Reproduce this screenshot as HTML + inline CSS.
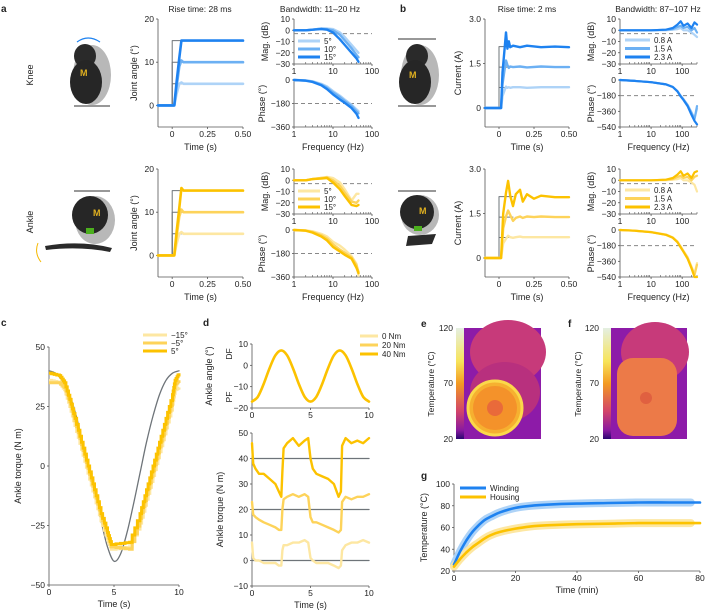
<!DOCTYPE html>
<html><head><meta charset="utf-8"><style>
html,body{margin:0;padding:0;background:#fff}
svg{display:block;font-family:"Liberation Sans",sans-serif}
text{fill:#222}
</style></head><body>
<svg id="fig" width="705" height="611" viewBox="0 0 705 611" xmlns="http://www.w3.org/2000/svg">
<defs>
<linearGradient id="cbar" x1="0" y1="0" x2="0" y2="1">
<stop offset="0" stop-color="#e4efe2"/><stop offset="0.3" stop-color="#f7e45a"/><stop offset="0.5" stop-color="#f39a22"/><stop offset="0.75" stop-color="#d2446a"/><stop offset="0.92" stop-color="#8a1aa0"/><stop offset="1" stop-color="#2a0670"/>
</linearGradient>
</defs>
<g font-weight="bold" font-size="10">
<text x="1" y="12">a</text>
<text x="400" y="12">b</text>
<text x="1" y="326">c</text>
<text x="203" y="326">d</text>
<text x="421" y="327">e</text>
<text x="568" y="327">f</text>
<text x="421" y="479">g</text>
</g>
<text transform="translate(33,75) rotate(-90)" text-anchor="middle" font-size="9">Knee</text>
<text transform="translate(33,222) rotate(-90)" text-anchor="middle" font-size="9">Ankle</text>
<g>
<path d="M77 42 Q88 34 100 42" fill="none" stroke="#1e82f0" stroke-width="1.2"/>
<ellipse cx="92" cy="75" rx="19" ry="30" fill="#b8b8b8"/>
<ellipse cx="85" cy="56" rx="11" ry="12" fill="#2a2a2a"/>
<ellipse cx="86" cy="82" rx="16" ry="22" fill="#262626"/>
<text x="80" y="76" font-size="9" font-weight="bold" style="fill:#e0b020">M</text>
<line x1="74" y1="106" x2="110" y2="106" stroke="#777" stroke-width="1.5"/>
</g>
<g>
<line x1="74" y1="191" x2="110" y2="191" stroke="#777" stroke-width="1.5"/>
<ellipse cx="95" cy="220" rx="20" ry="24" fill="#b8b8b8"/>
<ellipse cx="90" cy="215" rx="18" ry="19" fill="#262626"/>
<text x="93" y="216" font-size="9" font-weight="bold" style="fill:#e0b020">M</text>
<rect x="86" y="228" width="8" height="6" fill="#4caf1e"/>
<path d="M45 246 Q80 240 112 248 L110 252 Q80 246 46 250 Z" fill="#2a2a2a"/>
<path d="M38 243 Q34 253 41 262" fill="none" stroke="#f5b800" stroke-width="1"/>
</g>
<g>
<line x1="398" y1="39" x2="436" y2="39" stroke="#777" stroke-width="1.5"/>
<ellipse cx="420" cy="75" rx="19" ry="30" fill="#b8b8b8"/>
<ellipse cx="417" cy="56" rx="11" ry="12" fill="#2a2a2a"/>
<ellipse cx="415" cy="82" rx="16" ry="22" fill="#262626"/>
<text x="409" y="78" font-size="9" font-weight="bold" style="fill:#e0b020">M</text>
<line x1="398" y1="106" x2="436" y2="106" stroke="#777" stroke-width="1.5"/>
</g>
<g>
<line x1="398" y1="191" x2="436" y2="191" stroke="#777" stroke-width="1.5"/>
<ellipse cx="420" cy="215" rx="19" ry="20" fill="#b8b8b8"/>
<ellipse cx="417" cy="212" rx="17" ry="17" fill="#262626"/>
<text x="419" y="214" font-size="9" font-weight="bold" style="fill:#e0b020">M</text>
<rect x="414" y="226" width="8" height="5" fill="#4caf1e"/>
<path d="M408 236 L436 234 L432 244 L406 246 Z" fill="#2a2a2a"/>
</g>
<g>
<rect x="456" y="328" width="8" height="111" fill="url(#cbar)"/>
<rect x="464" y="328" width="77" height="111" fill="#8d1ba8"/>
<ellipse cx="508" cy="352" rx="38" ry="32" fill="#c73a7a"/>
<ellipse cx="505" cy="392" rx="35" ry="30" fill="#b8307e"/>
<circle cx="495" cy="408" r="27" fill="#f6b030"/>
<circle cx="495" cy="408" r="22" fill="#f4922a"/>
<circle cx="495" cy="408" r="8" fill="#e96a3a"/>
<circle cx="495" cy="408" r="27" fill="none" stroke="#fbd84a" stroke-width="3"/>
</g>
<g>
<rect x="603" y="328" width="8" height="111" fill="url(#cbar)"/>
<rect x="611" y="328" width="76" height="111" fill="#8d1ba8"/>
<ellipse cx="655" cy="352" rx="34" ry="30" fill="#c73a7a"/>
<rect x="617" y="358" width="60" height="78" rx="16" fill="#ec7a48"/>
<circle cx="646" cy="398" r="6" fill="#e06040"/>
</g>
<g font-size="8.5" text-anchor="end">
<text x="453" y="331">120</text><text x="453" y="386">70</text><text x="453" y="442">20</text>
<text x="599" y="331">120</text><text x="599" y="386">70</text><text x="599" y="442">20</text>
</g>
<text transform="translate(434,384) rotate(-90)" text-anchor="middle" font-size="8.5">Temperature (°C)</text>
<text transform="translate(581,384) rotate(-90)" text-anchor="middle" font-size="8.5">Temperature (°C)</text>
</svg>
<script>
const stepT = [-0.1, 0.015, 0.03, 0.05, 0.065, 0.08, 0.5];
const knee15 = [0, 0, 5, 11, 15, 15, 15];
const knee10 = [0, 0, 4, 9, 10.4, 10, 10];
const knee5 = [0, 0, 2.5, 5, 5.3, 5, 5];
const ankle15 = [0, 0, 5, 11, 15.6, 15, 15];
const ankle10 = [0, 0, 4, 9, 10.6, 10, 10];
const ankle5 = [0, 0, 2.5, 5, 5.4, 5, 5];
const angleRefs = [15, 10, 5];

const bodeF = [1, 2, 3, 5, 7, 10, 15, 20, 30, 40, 45];
const kneeMag15 = [0, 0, 0.5, 1, 0.5, -2, -8, -13, -20, -25, -28];
const kneeMag10 = [0, 0, 0.5, 1.5, 1, 0, -4, -9, -16, -22, -24];
const kneeMag5 = [0, 0, 0.5, 1.5, 1.5, 1, -2, -6, -13, -18, -20];
const kneePh15 = [0, -5, -15, -40, -70, -110, -150, -175, -215, -260, -290];
const kneePh10 = [0, -4, -12, -35, -60, -95, -130, -160, -200, -240, -255];
const kneePh5 = [0, -3, -10, -30, -50, -85, -120, -150, -190, -225, -240];
const ankleMag15 = [0, 0, 1, 1.5, 2, -2, -8, -14, -22, -23, -22];
const ankleMag10 = [0, 0, 1, 2, 2.5, 0, -5, -11, -19, -20, -18];
const ankleMag5 = [0, 0, 1, 2, 3, 2, -2, -8, -18, -12, -12];
const anklePh15 = [0, -5, -20, -50, -80, -130, -165, -190, -220, -290, -330];
const anklePh10 = [0, -4, -15, -40, -65, -110, -150, -175, -210, -270, -320];
const anklePh5 = [0, -3, -10, -30, -50, -90, -120, -150, -200, -260, -350];

const curT = [-0.1, 0.015, 0.025, 0.04, 0.05, 0.06, 0.07, 0.08, 0.1, 0.15, 0.2, 0.3, 0.4, 0.5];
const kneeCur23 = [0, 0, 1.2, 2.0, 2.55, 2.0, 2.25, 2.05, 2.1, 2.05, 2.1, 2.05, 2.07, 2.05];
const kneeCur15 = [0, 0, 0.8, 1.3, 1.6, 1.45, 1.35, 1.4, 1.38, 1.4, 1.37, 1.4, 1.38, 1.38];
const kneeCur08 = [0, 0, 0.4, 0.6, 0.72, 0.68, 0.7, 0.68, 0.7, 0.7, 0.68, 0.7, 0.7, 0.7];
const curT2 = [-0.1, 0.015, 0.03, 0.05, 0.065, 0.08, 0.1, 0.12, 0.15, 0.17, 0.2, 0.25, 0.3, 0.4, 0.5];
const ankleCur23 = [0, 0, 1.5, 2.2, 2.6, 2.1, 1.75, 2.15, 2.3, 1.9, 2.15, 2.0, 2.1, 2.05, 2.05];
const ankleCur15 = [0, 0, 1.0, 1.4, 1.6, 1.45, 1.25, 1.35, 1.4, 1.35, 1.4, 1.38, 1.4, 1.38, 1.38];
const ankleCur08 = [0, 0, 0.5, 0.65, 0.75, 0.7, 0.68, 0.7, 0.72, 0.7, 0.7, 0.7, 0.7, 0.7, 0.7];
const curRefs = [2.07, 1.38, 0.69];

const bodeFB = [1, 3, 10, 30, 50, 70, 90, 110, 150, 200, 250, 300];
const kneeMagB23 = [0, 0, 0, 0.5, 2, 5, 8, 4, 6, 2, 7, 5];
const kneeMagB15 = [0, 0, 0, 0.5, 1, 3, 4, 2, 3, 0, 2, -2];
const kneeMagB08 = [0, 0, 0, 0, 0.5, 1, 2, 0, 0, -2, -4, -6];
const kneePhB23 = [0, -10, -25, -50, -80, -130, -190, -230, -300, -400, -470, -510];
const kneePhB15 = [0, -10, -25, -50, -80, -130, -185, -225, -290, -380, -450, -300];
const kneePhB08 = [0, -10, -25, -48, -78, -125, -180, -220, -285, -370, -440, -330];
const ankleMagB23 = [0, 0, 0, 0.5, 2, 5, 8, 4, 6, 2, 7, 8];
const ankleMagB15 = [0, 0, 0, 0.5, 1, 3, 4, 2, 3, 0, 3, 4];
const ankleMagB08 = [0, 0, 0, 0, 0.5, 1, 2, 0, 0, -2, -4, -10];
const anklePhB23 = [0, -8, -25, -55, -90, -140, -200, -250, -330, -440, -540, -540];
const anklePhB15 = [0, -8, -25, -55, -88, -135, -195, -245, -320, -430, -520, -400];
const anklePhB08 = [0, -8, -22, -50, -85, -130, -190, -240, -310, -420, -500, -380];

const torqueT = [0, 0.5, 1, 1.5, 2, 2.5, 3, 3.5, 4, 4.5, 5, 5.5, 6, 6.5, 7, 7.5, 8, 8.5, 9, 9.5, 10];
const torqueRef = [40, 39, 36, 31, 23, 12, 1, -11, -23, -34, -40, -37, -28, -16, -3, 10, 21, 30, 36, 39, 40];
const stairT = [0, 0.8, 1.2, 1.6, 2, 2.5, 3, 3.5, 4, 4.5, 4.8, 6.2, 7, 7.5, 8, 8.5, 9, 9.5, 9.7, 10];
const torque5 = [39, 38, 35, 28, 20, 10, 0, -10, -20, -28, -33, -32, -20, -10, 0, 10, 20, 30, 36, 39];
const torqueM5 = [35, 35, 33, 27, 19, 9, -1, -11, -21, -29, -34, -35, -22, -12, -2, 8, 18, 28, 34, 36];
const torqueM15 = [36, 35, 32, 25, 17, 7, -3, -13, -23, -31, -35, -34, -24, -14, -4, 6, 16, 26, 32, 33];

const angT = [0, 0.5, 1, 1.5, 2, 2.5, 3, 3.5, 4, 4.5, 5, 5.5, 6, 6.5, 7, 7.5, 8, 8.5, 9, 9.5, 10];
const angVals = [-17, -14.7, -8.7, -1.3, 4.7, 7, 4.7, -1.3, -8.7, -14.7, -17, -14.7, -8.7, -1.3, 4.7, 7, 4.7, -1.3, -8.7, -14.7, -17];

const dT = [0, 0.1, 0.3, 0.6, 1, 1.5, 2, 2.3, 2.5, 2.6, 2.7, 3, 3.5, 4, 4.5, 4.8, 5, 5.2, 5.5, 6, 6.5, 7, 7.4, 7.6, 7.7, 8, 8.5, 9, 9.5, 10];
const dTorque40 = [46, 38, 36, 34, 34, 32, 30, 27, 25, 35, 44, 46, 48, 45, 47, 48, 40, 36, 34, 33, 32, 30, 25, 27, 45, 48, 46, 47, 46, 48];
const dTorque20 = [23, 18, 17, 16, 15, 14, 13, 12, 12, 20, 24, 25, 26, 25, 26, 25, 17, 15, 15, 14, 13, 12, 11, 12, 23, 25, 24, 25, 25, 26];
const dTorque0 = [7, 1, 0, 0, -1, -1, -1, -2, -2, 4, 6, 6, 7, 7, 8, 7, 1, 0, -1, -1, -1, -2, -3, -2, 4, 6, 7, 7, 8, 7];
const dRefs = [0, 20, 40];

const tempT = [0, 2, 4, 6, 8, 10, 12, 15, 20, 25, 30, 40, 50, 60, 70, 77];
const winding = [26, 38, 48, 56, 62, 67, 70, 74, 78, 80, 81, 82, 82.5, 83, 83, 83];
const housing = [24, 31, 37, 42, 46, 50, 53, 56, 59, 61, 62, 63, 63.5, 64, 64, 64];

const NS = "http://www.w3.org/2000/svg";
const svg = document.getElementById('fig');
const B1='#1e82f0',B2='#6cb0f3',B3='#aed3f7',Y1='#fcc200',Y2='#fdd35a',Y3='#fde7a2',G='#6e7479';
function mk(tag, attrs, name, parent) {
  const el = document.createElementNS(NS, tag);
  for (const k in attrs) el.setAttribute(k, attrs[k]);
  
  
  (parent || svg).appendChild(el);
  return el;
}
function txt(x, y, s, name, opts) {
  const o = Object.assign({x: x, y: y, 'font-size': 8.5, 'text-anchor': 'middle'}, opts || {});
  const el = mk('text', o, name);
  el.textContent = s;
  return el;
}
function vtxt(x, y, s, name, size) {
  const el = mk('text', {transform: 'translate(' + x + ',' + y + ') rotate(-90)', 'font-size': size || 8.5, 'text-anchor': 'middle'}, name);
  el.textContent = s;
  return el;
}
const lin = (d0, d1, p0, p1) => v => p0 + (v - d0) * (p1 - p0) / (d1 - d0);
const lg = (d0, d1, p0, p1) => v => p0 + (Math.log10(v) - Math.log10(d0)) * (p1 - p0) / (Math.log10(d1) - Math.log10(d0));
function line(xs, ys, sx, sy, color, w, name, opt) {
  let d = '';
  xs.forEach((x, i) => { d += (i ? 'L' : 'M') + sx(x).toFixed(1) + ' ' + sy(ys[i]).toFixed(1); });
  return mk('path', Object.assign({d: d, fill: 'none', stroke: color, 'stroke-width': w, 'stroke-linejoin': 'round', 'stroke-linecap': 'round'}, opt || {}), name);
}
function stairs(xs, ys, sx, sy, color, w, name) {
  let d = 'M' + sx(xs[0]) + ' ' + sy(ys[0]);
  for (let i = 1; i < xs.length; i++) {
    const n = 4;
    for (let k = 1; k <= n; k++) {
      const xx = xs[i - 1] + (xs[i] - xs[i - 1]) * k / n;
      const yy = ys[i - 1] + (ys[i] - ys[i - 1]) * k / n;
      d += 'H' + sx(xx).toFixed(1) + 'V' + sy(yy).toFixed(1);
    }
  }
  return mk('path', {d: d, fill: 'none', stroke: color, 'stroke-width': w}, name);
}
function smooth(xs, ys, sx, sy, color, w, name) {
  const P = xs.map((x, i) => [sx(x), sy(ys[i])]);
  let d = 'M' + P[0][0] + ' ' + P[0][1];
  for (let i = 0; i < P.length - 1; i++) {
    const p0 = P[Math.max(i - 1, 0)], p1 = P[i], p2 = P[i + 1], p3 = P[Math.min(i + 2, P.length - 1)];
    d += 'C' + (p1[0] + (p2[0] - p0[0]) / 6).toFixed(1) + ' ' + (p1[1] + (p2[1] - p0[1]) / 6).toFixed(1) + ' ' +
      (p2[0] - (p3[0] - p1[0]) / 6).toFixed(1) + ' ' + (p2[1] - (p3[1] - p1[1]) / 6).toFixed(1) + ' ' + p2[0].toFixed(1) + ' ' + p2[1].toFixed(1);
  }
  return mk('path', {d: d, fill: 'none', stroke: color, 'stroke-width': w, 'stroke-linecap': 'round'}, name);
}
function axes(p) {
  const g = '#555';
  mk('line', {x1: p.x0, y1: p.y0, x2: p.x0, y2: p.y1, stroke: g, 'stroke-width': 0.8}, p.name + '-y-axis');
  mk('line', {x1: p.x0, y1: p.y1, x2: p.x1, y2: p.y1, stroke: g, 'stroke-width': 0.8}, p.name + '-x-axis');
  p.yt.forEach((v, i) => {
    const y = p.sy(v);
    mk('line', {x1: p.x0 - 2, y1: y, x2: p.x0, y2: y, stroke: g, 'stroke-width': 0.8}, p.name + '-y-tick');
    txt(p.x0 - 4, y + 3, p.yl[i], p.name + '-y-tick-label', {'text-anchor': 'end'});
  });
  if (p.xt) p.xt.forEach((v, i) => {
    const x = p.sx(v);
    mk('line', {x1: x, y1: p.y1, x2: x, y2: p.y1 + 2, stroke: g, 'stroke-width': 0.8}, p.name + '-x-tick');
    txt(x, p.y1 + 10, p.xl[i], p.name + '-x-tick-label');
  });
  if (p.minor) p.minor.forEach(v => {
    const x = p.sx(v);
    mk('line', {x1: x, y1: p.y1, x2: x, y2: p.y1 - 2, stroke: g, 'stroke-width': 0.6}, p.name + '-x-minor-tick');
  });
  if (p.xlabel) txt((p.x0 + p.x1) / 2, p.y1 + (p.xlo || 23), p.xlabel, p.name + '-x-title', {'font-size': 9});
  if (p.ylabel) vtxt(p.ylx, (p.y0 + p.y1) / 2, p.ylabel, p.name + '-y-title', 9);
}
function hdash(x0, x1, y, name) {
  mk('line', {x1: x0, y1: y, x2: x1, y2: y, stroke: '#888', 'stroke-width': 1, 'stroke-dasharray': '4 3'}, name);
}
function legend(x, y, dy, cols, labels, name, len, ws) {
  labels.forEach((l, i) => {
    mk('line', {x1: x, y1: y + i * dy, x2: x + len, y2: y + i * dy, stroke: cols[i], 'stroke-width': ws[i]}, name + '-swatch');
    txt(x + len + 4, y + i * dy + 3, l, name + '-label', {'text-anchor': 'start', 'font-size': 8});
  });
}
const minorA = [2,3,4,5,6,7,8,9,20,30,40,50,60,70,80,90];
const minorB = [2,3,4,5,6,7,8,9,20,30,40,50,60,70,80,90,200,300];

txt(200, 12, 'Rise time: 28 ms', 'panel-a-step-title', {'font-size': 8.5});
txt(320, 12, 'Bandwidth: 11–20 Hz', 'panel-a-bode-title', {'font-size': 8.5});
txt(527, 12, 'Rise time: 2 ms', 'panel-b-step-title', {'font-size': 8.5});
txt(658, 12, 'Bandwidth: 87–107 Hz', 'panel-b-bode-title', {'font-size': 8.5});

[[0, [knee5, knee10, knee15], [B3, B2, B1], 'knee'], [150, [ankle5, ankle10, ankle15], [Y3, Y2, Y1], 'ankle']].forEach(([off, ser, cols, nm]) => {
  const sx = lin(-0.1, 0.5, 158, 243), sy = lin(-5, 20, 127 + off, 19 + off);
  axes({x0: 158, x1: 243, y0: 19 + off, y1: 127 + off, sx: sx, sy: sy, xt: [0, 0.25, 0.5], xl: ['0', '0.25', '0.50'], yt: [0, 10, 20], yl: ['0', '10', '20'], xlabel: 'Time (s)', ylabel: 'Joint angle (°)', ylx: 137, name: nm + '-angle-step'});
  angleRefs.forEach(L => line([0, 0, 0.07], [0, L, L], sx, sy, G, 1, nm + '-angle-reference'));
  ser.forEach((s, i) => line(stepT, s, sx, sy, cols[i], 2.6, nm + '-angle-response-' + i));
  const fx = lg(1, 100, 294, 372);
  const my = lin(-30, 10, 64 + off, 19 + off), py = lin(-360, 0, 127 + off, 80 + off);
  axes({x0: 294, x1: 372, y0: 19 + off, y1: 64 + off, sx: fx, sy: my, xt: [1, 10, 100], xl: ['1', '10', '100'], yt: [10, 0, -10, -20, -30], yl: ['10', '0', '−10', '−20', '−30'], minor: minorA, ylabel: 'Mag. (dB)', ylx: 268, name: nm + '-bode-mag'});
  axes({x0: 294, x1: 372, y0: 80 + off, y1: 127 + off, sx: fx, sy: py, xt: [1, 10, 100], xl: ['1', '10', '100'], yt: [0, -180, -360], yl: ['0', '−180', '−360'], minor: minorA, xlabel: 'Frequency (Hz)', ylabel: 'Phase (°)', ylx: 265, name: nm + '-bode-phase'});
  hdash(294, 372, my(-3), nm + '-mag-3db-line');
  hdash(294, 372, py(-180), nm + '-phase-180-line');
  const mags = nm === 'knee' ? [kneeMag5, kneeMag10, kneeMag15] : [ankleMag5, ankleMag10, ankleMag15];
  const phs = nm === 'knee' ? [kneePh5, kneePh10, kneePh15] : [anklePh5, anklePh10, anklePh15];
  mags.forEach((m, i) => line(bodeF, m, fx, my, cols[i], 2.4, nm + '-mag-series-' + i));
  phs.forEach((m, i) => line(bodeF, m, fx, py, cols[i], 2.4, nm + '-phase-series-' + i));
  legend(298, 41 + off, 8, cols, ['5°', '10°', '15°'], nm + '-bode-legend', 22, [3, 3, 3]);
});

[[0, [kneeCur08, kneeCur15, kneeCur23], curT, [B3, B2, B1], 'knee-b'], [150, [ankleCur08, ankleCur15, ankleCur23], curT2, [Y3, Y2, Y1], 'ankle-b']].forEach(([off, ser, ts, cols, nm]) => {
  const sx = lin(-0.1, 0.5, 485, 569), sy = lin(0, 3, 108 + off, 19 + off);
  axes({x0: 485, x1: 569, y0: 19 + off, y1: 127 + off, sx: sx, sy: sy, xt: [0, 0.25, 0.5], xl: ['0', '0.25', '0.50'], yt: [0, 1.5, 3], yl: ['0', '1.5', '3.0'], xlabel: 'Time (s)', ylabel: 'Current (A)', ylx: 461, name: nm + '-current-step'});
  curRefs.forEach(L => line([0, 0, 0.1], [0, L, L], sx, sy, G, 1, nm + '-current-reference'));
  ser.forEach((s, i) => line(ts, s, sx, sy, cols[i], 2.4, nm + '-current-response-' + i));
  const fx = lg(1, 300, 620, 697);
  const my = lin(-30, 10, 64 + off, 19 + off), py = lin(-540, 0, 127 + off, 80 + off);
  axes({x0: 620, x1: 697, y0: 19 + off, y1: 64 + off, sx: fx, sy: my, xt: [1, 10, 100], xl: ['1', '10', '100'], yt: [10, 0, -10, -20, -30], yl: ['10', '0', '−10', '−20', '−30'], minor: minorB, ylabel: 'Mag. (dB)', ylx: 594, name: nm + '-bode-mag'});
  axes({x0: 620, x1: 697, y0: 80 + off, y1: 127 + off, sx: fx, sy: py, xt: [1, 10, 100], xl: ['1', '10', '100'], yt: [0, -180, -360, -540], yl: ['0', '−180', '−360', '−540'], minor: minorB, xlabel: 'Frequency (Hz)', ylabel: 'Phase (°)', ylx: 594, name: nm + '-bode-phase'});
  hdash(620, 697, my(-3), nm + '-mag-3db-line');
  hdash(620, 697, py(-180), nm + '-phase-180-line');
  const mags = off === 0 ? [kneeMagB08, kneeMagB15, kneeMagB23] : [ankleMagB08, ankleMagB15, ankleMagB23];
  const phs = off === 0 ? [kneePhB08, kneePhB15, kneePhB23] : [anklePhB08, anklePhB15, anklePhB23];
  mags.forEach((m, i) => line(bodeFB, m, fx, my, cols[i], 2.2, nm + '-mag-series-' + i));
  phs.forEach((m, i) => line(bodeFB, m, fx, py, cols[i], 2.2, nm + '-phase-series-' + i));
  legend(625, 40 + off, 8.5, cols, ['0.8 A', '1.5 A', '2.3 A'], nm + '-bode-legend', 25, [3, 3, 3]);
});

{
  const sx = lin(0, 10, 49, 179), sy = lin(-50, 50, 585, 347);
  axes({x0: 49, x1: 179, y0: 347, y1: 585, sx: sx, sy: sy, xt: [0, 5, 10], xl: ['0', '5', '10'], yt: [50, 25, 0, -25, -50], yl: ['50', '25', '0', '−25', '−50'], xlabel: 'Time (s)', xlo: 22, ylabel: 'Ankle  torque (N m)', ylx: 21, name: 'torque-tracking'});
  smooth(torqueT, torqueRef, sx, sy, G, 1.3, 'torque-reference');
  stairs(stairT, torqueM15, sx, sy, Y3, 3, 'torque-minus15');
  stairs(stairT, torqueM5, sx, sy, Y2, 3, 'torque-minus5');
  stairs(stairT, torque5, sx, sy, Y1, 3, 'torque-plus5');
  legend(143, 335, 8, [Y3, Y2, Y1], ['−15°', '−5°', '5°'], 'torque-legend', 24, [3, 3, 3]);
}

{
  const sx = lin(0, 10, 252, 369), sy = lin(-20, 10, 408, 344);
  axes({x0: 252, x1: 369, y0: 344, y1: 408, sx: sx, sy: sy, xt: [0, 5, 10], xl: ['0', '5', '10'], yt: [10, 0, -10, -20], yl: ['10', '0', '−10', '−20'], ylabel: 'Ankle angle (°)', ylx: 212, name: 'ankle-angle'});
  txt(229, 357, 'DF', 'dorsiflexion-label', {transform: 'rotate(-90 229 354)', 'font-size': 8.5});
  txt(229, 400, 'PF', 'plantarflexion-label', {transform: 'rotate(-90 229 397)', 'font-size': 8.5});
  smooth(angT, angVals, sx, sy, Y1, 2.6, 'ankle-angle-series');
  const ty = lin(-10, 50, 586, 433);
  axes({x0: 252, x1: 369, y0: 433, y1: 586, sx: sx, sy: ty, xt: [0, 5, 10], xl: ['0', '5', '10'], yt: [50, 40, 30, 20, 10, 0, -10], yl: ['50', '40', '30', '20', '10', '0', '−10'], xlabel: 'Time (s)', xlo: 22, ylabel: 'Ankle torque (N m)', ylx: 223, name: 'ankle-torque'});
  dRefs.forEach(v => line([0, 10], [v, v], sx, ty, G, 1.3, 'torque-command-line'));
  line(dT, dTorque0, sx, ty, Y3, 2.4, 'torque-0nm');
  line(dT, dTorque20, sx, ty, Y2, 2.4, 'torque-20nm');
  line(dT, dTorque40, sx, ty, Y1, 2.4, 'torque-40nm');
  legend(360, 336, 9, [Y3, Y2, Y1], ['0 Nm', '20 Nm', '40 Nm'], 'torque-d-legend', 18, [3, 3, 3]);
}

{
  const sx = lin(0, 80, 454, 700), sy = lin(20, 100, 571, 484);
  axes({x0: 454, x1: 700, y0: 484, y1: 571, sx: sx, sy: sy, xt: [0, 20, 40, 60, 80], xl: ['0', '20', '40', '60', '80'], yt: [100, 80, 60, 40, 20], yl: ['100', '80', '60', '40', '20'], xlabel: 'Time (min)', xlo: 22, ylabel: 'Temperature (°C)', ylx: 427, name: 'temperature'});
  smooth(tempT, winding, sx, sy, B3, 8, 'winding-band');
  smooth(tempT, housing, sx, sy, Y3, 8, 'housing-band');
  smooth(tempT.concat([80]), winding.concat([83]), sx, sy, B1, 2.6, 'winding-series');
  smooth(tempT.concat([80]), housing.concat([64]), sx, sy, Y1, 2.6, 'housing-series');
  legend(460, 488, 9, [B1, Y1], ['Winding', 'Housing'], 'temperature-legend', 26, [3, 3]);
}
</script>
</body></html>
